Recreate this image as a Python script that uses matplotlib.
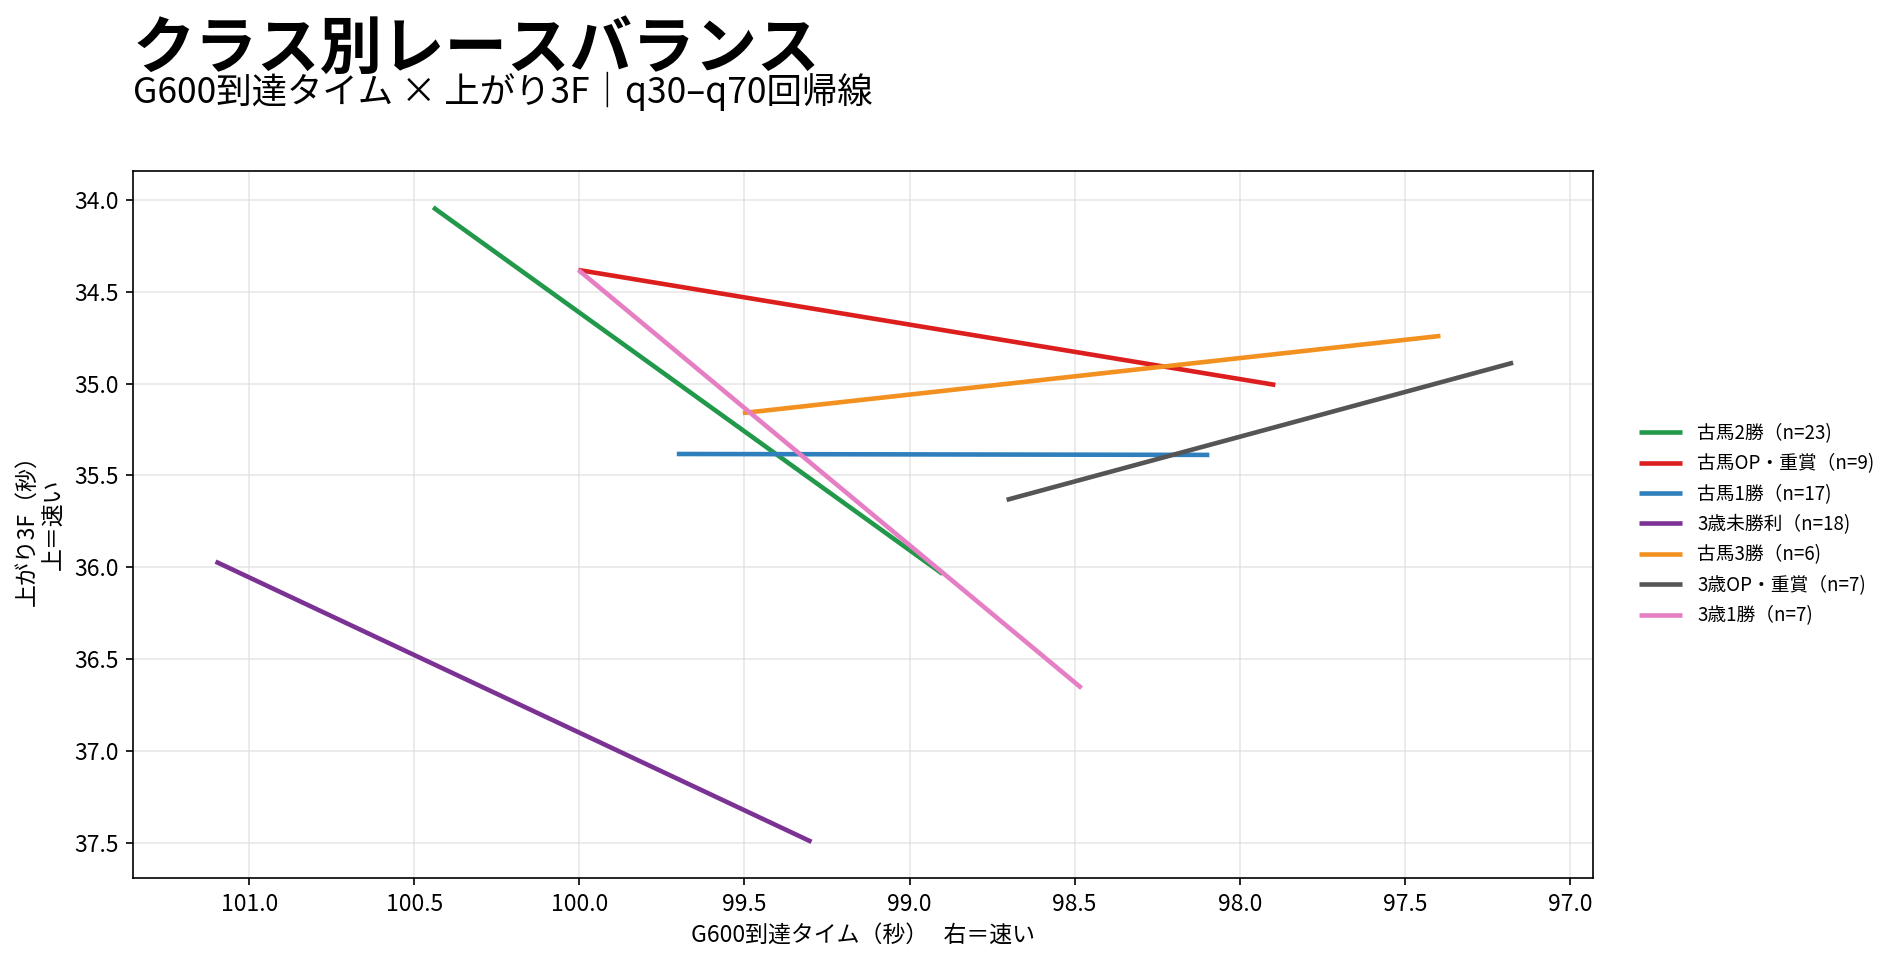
import matplotlib
matplotlib.use("Agg")
import matplotlib.pyplot as plt

plt.rcParams['font.family'] = ['Noto Sans CJK JP', 'DejaVu Sans']

# Data: regression line endpoints (G600 time, last-3F) per class
classes = ["古馬2勝", "古馬OP・重賞", "古馬1勝", "3歳未勝利", "古馬3勝", "3歳OP・重賞", "3歳1勝"]
counts = [23, 9, 17, 18, 6, 7, 7]
x_start = [100.443, 100.003, 99.705, 101.102, 99.505, 98.706, 100.003]
x_end = [98.900, 97.892, 98.092, 99.297, 97.392, 97.172, 98.479]
y_start = [34.040, 34.381, 35.383, 35.969, 35.160, 35.633, 34.381]
y_end = [36.036, 35.007, 35.388, 37.495, 34.740, 34.886, 36.658]
colors = ["#22994a", "#dc1e1e", "#2e7fbb", "#7b3294", "#f29020", "#555555", "#e67ec4"]

x_ticks = [101.0, 100.5, 100.0, 99.5, 99.0, 98.5, 98.0, 97.5, 97.0]
y_ticks = [34.0, 34.5, 35.0, 35.5, 36.0, 36.5, 37.0, 37.5]

W, H, DPI = 1904, 965, 150
fig = plt.figure(figsize=(W / DPI, H / DPI), dpi=DPI)
ax = fig.add_axes([133 / W, 1 - 878 / H, (1593 - 133) / W, (878 - 171) / H])

for name, n, x0, x1, y0, y1, c in zip(classes, counts, x_start, x_end, y_start, y_end, colors):
    ax.plot([x0, x1], [y0, y1], color=c, lw=2.2, label=f"{name}（n={n})", solid_capstyle='butt')

ax.set_xlim(101.352, 96.93)
ax.set_ylim(37.692, 33.842)
ax.set_xticks(x_ticks)
ax.set_yticks(y_ticks)
ax.set_xticklabels([f"{v:.1f}" for v in x_ticks])
ax.set_yticklabels([f"{v:.1f}" for v in y_ticks])
ax.tick_params(labelsize=11)
ax.grid(True, color='#dddddd', lw=0.8, alpha=0.7)
ax.set_axisbelow(True)

ax.set_xlabel("G600到達タイム（秒）   右＝速い", fontsize=11)
ax.set_ylabel("上がり3F（秒）\n上＝速い", fontsize=11)

ax.legend(loc='center left', bbox_to_anchor=(1.0199, 0.5), frameon=False,
          fontsize=9, handlelength=2.3)

fig.text(133 / W, 1 - 68 / H, "クラス別レースバランス", fontsize=30, fontweight='bold',
         va='baseline', ha='left')
fig.text(133 / W, 1 - 103 / H, "G600到達タイム × 上がり3F｜q30–q70回帰線", fontsize=17,
         va='baseline', ha='left')

fig.savefig("out.png", dpi=DPI)
